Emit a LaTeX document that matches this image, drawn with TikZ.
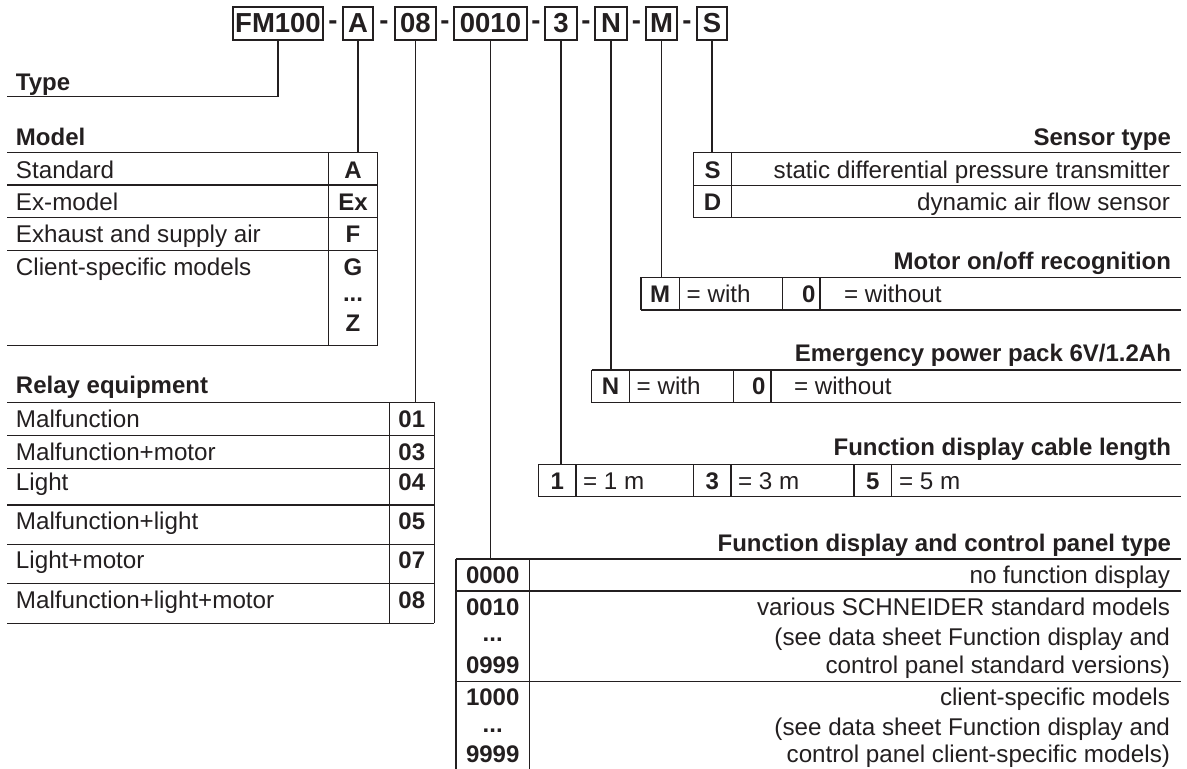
\documentclass[tikz,border=0pt]{standalone}
\usepackage{fontspec}
\setmainfont{Liberation Sans}
\definecolor{ink}{RGB}{35,31,32}
\tikzset{
  every node/.style={inner sep=0pt, outer sep=0pt, text=ink},
  txt/.style={font=\fontsize{24.2}{28}\selectfont, anchor=base west},
  txtr/.style={font=\fontsize{24.2}{28}\selectfont, anchor=base east},
  hdl/.style={font=\fontsize{24}{28}\selectfont\bfseries, anchor=base west},
  hdr/.style={font=\fontsize{24}{28}\selectfont\bfseries, anchor=base east},
  code/.style={font=\fontsize{24}{28}\selectfont\bfseries, anchor=base},
  coder/.style={font=\fontsize{24}{28}\selectfont\bfseries, anchor=base east},
  codebox/.style={draw=ink, line width=1.3pt, minimum height=33pt, font=\fontsize{27.5}{30}\selectfont\bfseries},
  hyph/.style={font=\fontsize{27.5}{30}\selectfont\bfseries},
  ln/.style={draw=ink, line width=1.3pt},
}
\begin{document}
\begin{tikzpicture}[x=1pt,y=-1pt]
\useasboundingbox (0,0) rectangle (1187,769);

% ---------- top code row ----------
\node[codebox, minimum width=90] (fm) at (278,23.5) {FM100};
\node[codebox, minimum width=30] (bA) at (358,23.5) {A};
\node[codebox, minimum width=41] (b08) at (415.5,23.5) {08};
\node[codebox, minimum width=73] (b0010) at (490.5,23.5) {0010};
\node[codebox, minimum width=32] (b3) at (561,23.5) {3};
\node[codebox, minimum width=32] (bN) at (611,23.5) {N};
\node[codebox, minimum width=31] (bM) at (661.5,23.5) {M};
\node[codebox, minimum width=30] (bS) at (712,23.5) {S};
\node[hyph] (h1) at (333,25) {-};
\node[hyph] (h2) at (384,25) {-};
\node[hyph] (h3) at (445,25) {-};
\node[hyph] (h4) at (536,25) {-};
\node[hyph] (h5) at (586,25) {-};
\node[hyph] (h6) at (636.5,25) {-};
\node[hyph] (h7) at (687,25) {-};

% ---------- anchor coordinates of the sections ----------
\coordinate (typeend) at (7,96.7);
\coordinate (modeltop) at (358,152.7);
\coordinate (relaytop) at (415.5,402.3);
\coordinate (paneltop) at (490.5,559);
\coordinate (cabletop) at (561,464.3);
\coordinate (ntop) at (611,370);
\coordinate (mtop) at (661.5,277.3);
\coordinate (stop) at (712,152.7);

% ---------- connectors ----------
\draw[ln] (fm.south) |- (typeend);
\draw[ln] (bA.south) -- (modeltop);
\draw[ln] (b08.south) -- (relaytop);
\draw[ln] (b0010.south) -- (paneltop);
\draw[ln] (b3.south) -- (cabletop);
\draw[ln] (bN.south) -- (ntop);
\draw[ln] (bM.south) -- (mtop);
\draw[ln] (bS.south) -- (stop);

% ---------- Type ----------
\node[hdl] (type) at (16,90) {Type};

% ---------- Model ----------
\node[hdl] (model) at (16,145) {Model};
\foreach \yy in {152.7,185,217.7,250.7,345.7} \draw[ln] (7,\yy) -- (377.7,\yy);
\draw[ln] (328.3,152.7) -- (328.3,345.7) (377.7,152.7) -- (377.7,345.7);
\node[txt] (m1) at (16,178.3) {Standard};
\node[txt] (m2) at (16,210) {Ex-model};
\node[txt] (m3) at (16,242.7) {Exhaust and supply air};
\node[txt] (m4) at (16,275) {Client-specific models};
\node[code] (c1) at (353,178.3) {A};
\node[code] (c2) at (353,210) {Ex};
\node[code] (c3) at (353,242.7) {F};
\node[code] (c4) at (353,275) {G};
\node[code] (c5) at (353,301) {...};
\node[code] (c6) at (353,331.7) {Z};

% ---------- Relay equipment ----------
\node[hdl] (relay) at (16,393) {Relay equipment};
\foreach \yy in {402.3,435.7,468.3,505,544.3,583.3,623.3} \draw[ln] (7,\yy) -- (434.3,\yy);
\draw[ln] (389.3,402.3) -- (389.3,623.3) (434.3,402.3) -- (434.3,623.3);
\node[txt] (r1) at (16,427) {Malfunction};
\node[txt] (r2) at (16,460) {Malfunction+motor};
\node[txt] (r3) at (16,490) {Light};
\node[txt] (r4) at (16,529) {Malfunction+light};
\node[txt] (r5) at (16,568) {Light+motor};
\node[txt] (r6) at (16,608) {Malfunction+light+motor};
\node[code] (rc1) at (411.8,427) {01};
\node[code] (rc2) at (411.8,460) {03};
\node[code] (rc3) at (411.8,490) {04};
\node[code] (rc4) at (411.8,529) {05};
\node[code] (rc5) at (411.8,568) {07};
\node[code] (rc6) at (411.8,608) {08};

% ---------- Sensor type ----------
\node[hdr] (sensor) at (1171,145) {Sensor type};
\foreach \yy in {152.7,185.7,217.7} \draw[ln] (693.3,\yy) -- (1181,\yy);
\draw[ln] (693.3,152.7) -- (693.3,217.7) (731.7,152.7) -- (731.7,217.7);
\node[code] (s1) at (712.5,178.3) {S};
\node[code] (s2) at (712.5,210.2) {D};
\node[txtr] (st1) at (1170,178.3) {static differential pressure transmitter};
\node[txtr] (st2) at (1170,210.2) {dynamic air flow sensor};

% ---------- Motor on/off recognition ----------
\node[hdr] (motor) at (1171,269) {Motor on/off recognition};
\foreach \yy in {277.3,310} \draw[ln] (641,\yy) -- (1181,\yy);
\draw[ln] (641,277.3) -- (641,310) (679.3,277.3) -- (679.3,310)
          (782.7,277.3) -- (782.7,310) (820,277.3) -- (820,310);
\node[code] (mo1) at (660.2,302.2) {M};
\node[txt] (mo2) at (686.7,302.2) {= with};
\node[coder] (mo3) at (815.5,302.2) {0};
\node[txt] (mo4) at (844,302.2) {= without};

% ---------- Emergency power pack ----------
\node[hdr] (emerg) at (1171,361.7) {Emergency power pack 6V/1.2Ah};
\foreach \yy in {370,402.7} \draw[ln] (591.7,\yy) -- (1181,\yy);
\draw[ln] (591.7,370) -- (591.7,402.7) (629.3,370) -- (629.3,402.7)
          (733.3,370) -- (733.3,402.7) (771,370) -- (771,402.7);
\node[code] (e1) at (610.5,394.8) {N};
\node[txt] (e2) at (636.7,394.8) {= with};
\node[coder] (e3) at (765.5,394.8) {0};
\node[txt] (e4) at (794,394.8) {= without};

% ---------- Function display cable length ----------
\node[hdr] (cable) at (1171,455.5) {Function display cable length};
\foreach \yy in {464.3,496.7} \draw[ln] (538.3,\yy) -- (1181,\yy);
\draw[ln] (538.3,464.3) -- (538.3,496.7) (576,464.3) -- (576,496.7)
          (693.3,464.3) -- (693.3,496.7) (731,464.3) -- (731,496.7)
          (854,464.3) -- (854,496.7) (891.7,464.3) -- (891.7,496.7);
\node[code] (l1) at (557.2,489) {1};
\node[txt] (l2) at (583,489) {= 1 m};
\node[code] (l3) at (712.2,489) {3};
\node[txt] (l4) at (738,489) {= 3 m};
\node[code] (l5) at (872.9,489) {5};
\node[txt] (l6) at (899,489) {= 5 m};

% ---------- Function display and control panel type ----------
\node[hdr] (panel) at (1171,551) {Function display and control panel type};
\foreach \yy in {559,591,681.7} \draw[ln] (456,\yy) -- (1181,\yy);
\draw[ln] (456,559) -- (456,769) (529.3,559) -- (529.3,769);
\node[code] (p1) at (492.7,583.3) {0000};
\node[code] (p2) at (492.7,615) {0010};
\node[code] (p3) at (492.7,641) {...};
\node[code] (p4) at (492.7,673) {0999};
\node[code] (p5) at (492.7,705) {1000};
\node[code] (p6) at (492.7,732) {...};
\node[code] (p7) at (492.7,762) {9999};
\node[txtr] (pt1) at (1170,583.3) {no function display};
\node[txtr] (pt2) at (1170,615) {various SCHNEIDER standard models};
\node[txtr] (pt3) at (1170,645) {(see data sheet Function display and};
\node[txtr] (pt4) at (1170,673) {control panel standard versions)};
\node[txtr] (pt5) at (1170,705) {client-specific models};
\node[txtr] (pt6) at (1170,735) {(see data sheet Function display and};
\node[txtr] (pt7) at (1170,762.7) {control panel client-specific models)};
\end{tikzpicture}
\end{document}
